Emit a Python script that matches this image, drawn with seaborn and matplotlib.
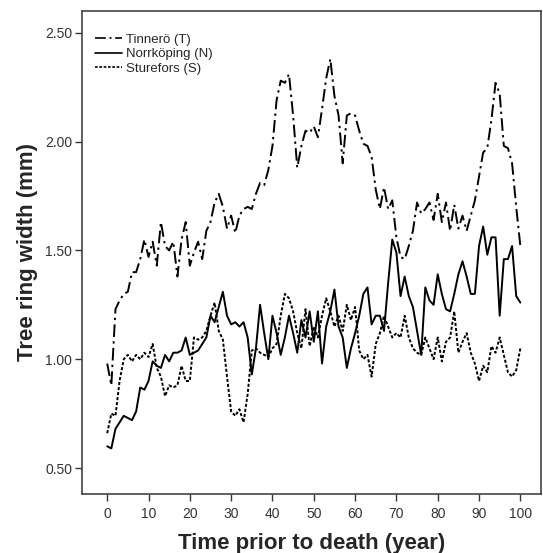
import numpy as np
import pandas as pd
import matplotlib
matplotlib.use("Agg")
import matplotlib.pyplot as plt
import seaborn as sns

years = list(range(0, 101))

tinnero = [0.98, 0.88, 1.23, 1.27, 1.30, 1.31, 1.40, 1.40, 1.46, 1.55,
           1.47, 1.54, 1.43, 1.63, 1.52, 1.50, 1.54, 1.38, 1.55, 1.63,
           1.43, 1.49, 1.54, 1.46, 1.59, 1.63, 1.72, 1.76, 1.70, 1.60,
           1.66, 1.58, 1.66, 1.69, 1.70, 1.69, 1.76, 1.81, 1.80, 1.87,
           1.98, 2.19, 2.28, 2.27, 2.31, 2.12, 1.88, 1.98, 2.05, 2.04,
           2.07, 2.02, 2.15, 2.29, 2.38, 2.21, 2.12, 1.90, 2.12, 2.13,
           2.12, 2.05, 1.99, 1.98, 1.93, 1.78, 1.69, 1.79, 1.69, 1.73,
           1.56, 1.47, 1.46, 1.52, 1.59, 1.72, 1.67, 1.69, 1.72, 1.64,
           1.76, 1.63, 1.72, 1.59, 1.71, 1.60, 1.66, 1.59, 1.66, 1.73,
           1.84, 1.95, 1.97, 2.10, 2.27, 2.22, 1.98, 1.97, 1.90, 1.70,
           1.52]

norrkoping = [0.60, 0.59, 0.68, 0.71, 0.74, 0.73, 0.72, 0.76, 0.87, 0.86,
              0.90, 0.99, 0.97, 0.96, 1.02, 0.99, 1.03, 1.03, 1.04, 1.10,
              1.02, 1.03, 1.04, 1.07, 1.10, 1.20, 1.17, 1.24, 1.31, 1.20,
              1.16, 1.17, 1.15, 1.17, 1.10, 0.93, 1.05, 1.25, 1.12, 1.00,
              1.20, 1.12, 1.02, 1.10, 1.20, 1.12, 1.03, 1.18, 1.10, 1.22,
              1.08, 1.22, 0.98, 1.15, 1.22, 1.32, 1.15, 1.10, 0.96, 1.05,
              1.12, 1.20, 1.30, 1.33, 1.16, 1.20, 1.20, 1.13, 1.35, 1.55,
              1.49, 1.29, 1.38, 1.29, 1.24, 1.13, 1.02, 1.33, 1.27, 1.25,
              1.39, 1.30, 1.23, 1.22, 1.30, 1.39, 1.45, 1.38, 1.30, 1.30,
              1.52, 1.61, 1.48, 1.56, 1.56, 1.20, 1.46, 1.46, 1.52, 1.29,
              1.26]

sturefors = [0.66, 0.75, 0.74, 0.90, 1.00, 1.02, 0.99, 1.02, 1.00, 1.03,
             1.01, 1.07, 0.96, 0.92, 0.83, 0.88, 0.87, 0.88, 0.97, 0.90,
             0.90, 1.10, 1.09, 1.10, 1.13, 1.20, 1.26, 1.13, 1.09, 0.92,
             0.76, 0.74, 0.77, 0.71, 0.84, 1.04, 1.05, 1.03, 1.02, 1.01,
             1.05, 1.07, 1.20, 1.30, 1.28, 1.22, 1.12, 1.05, 1.23, 1.06,
             1.15, 1.10, 1.20, 1.28, 1.22, 1.15, 1.20, 1.13, 1.25, 1.18,
             1.24, 1.04, 1.00, 1.02, 0.92, 1.07, 1.12, 1.20, 1.15, 1.10,
             1.12, 1.10, 1.20, 1.10, 1.05, 1.03, 1.02, 1.10, 1.05, 1.00,
             1.10, 0.99, 1.08, 1.10, 1.22, 1.03, 1.08, 1.12, 1.03, 0.98,
             0.90, 0.97, 0.94, 1.06, 1.03, 1.10, 1.02, 0.94, 0.92, 0.95,
             1.05]

site_labels = ["Tinnerö (T)", "Norrköping (N)", "Sturefors (S)"]
x_ticks = [0, 10, 20, 30, 40, 50, 60, 70, 80, 90, 100]
y_ticks = [0.50, 1.00, 1.50, 2.00, 2.50]

df = pd.concat([
    pd.DataFrame({"year": years, "width": tinnero, "site": site_labels[0]}),
    pd.DataFrame({"year": years, "width": norrkoping, "site": site_labels[1]}),
    pd.DataFrame({"year": years, "width": sturefors, "site": site_labels[2]}),
], ignore_index=True)

sns.set_style("white")
plt.rcParams["font.family"] = ["Liberation Sans", "DejaVu Sans"]

fig = plt.figure(figsize=(5.43, 5.53), dpi=100)
ax = fig.add_axes([82 / 543, 1 - 493.5 / 553, (541 - 82) / 543, (493.5 - 11) / 553])

dashes = {
    site_labels[0]: (6.5, 2.2, 1.2, 2.2),
    site_labels[1]: "",
    site_labels[2]: (1.6, 1.0),
}
sns.lineplot(data=df, x="year", y="width", hue="site", style="site",
             palette=["black", "black", "black"], dashes=dashes,
             linewidth=1.4, ax=ax, legend=True)

ax.set_xlim(-6.1, 105)
ax.set_ylim(0.383, 2.60)
ax.set_xticks(x_ticks)
ax.set_yticks(y_ticks)
ax.set_yticklabels([f"{v:.2f}" for v in y_ticks])
ax.tick_params(axis="both", direction="out", length=5, width=1, color="#333333",
               labelsize=10, labelcolor="#333333", left=True, bottom=True)
ax.tick_params(axis="x", pad=5)
ax.tick_params(axis="y", pad=2)
for s in ax.spines.values():
    s.set_color("#444444")
    s.set_linewidth(1.2)

ax.set_xlabel("Time prior to death (year)", fontsize=16, fontweight="bold")
ax.xaxis.set_label_coords(0.5, -(543.5 - 493.5) / (493.5 - 11), transform=ax.transAxes)
ax.xaxis.label.set_va("center")
ax.set_ylabel("Tree ring width (mm)", fontsize=16, fontweight="bold", labelpad=5)

leg = ax.legend(loc="upper left", frameon=False, fontsize=9.5, handlelength=2.0,
                handletextpad=0.3, labelspacing=0.15, borderaxespad=0.6,
                bbox_to_anchor=(0.0, 0.98))
for line in leg.get_lines():
    line.set_linewidth(1.2)

fig.savefig("out.png", dpi=100)
